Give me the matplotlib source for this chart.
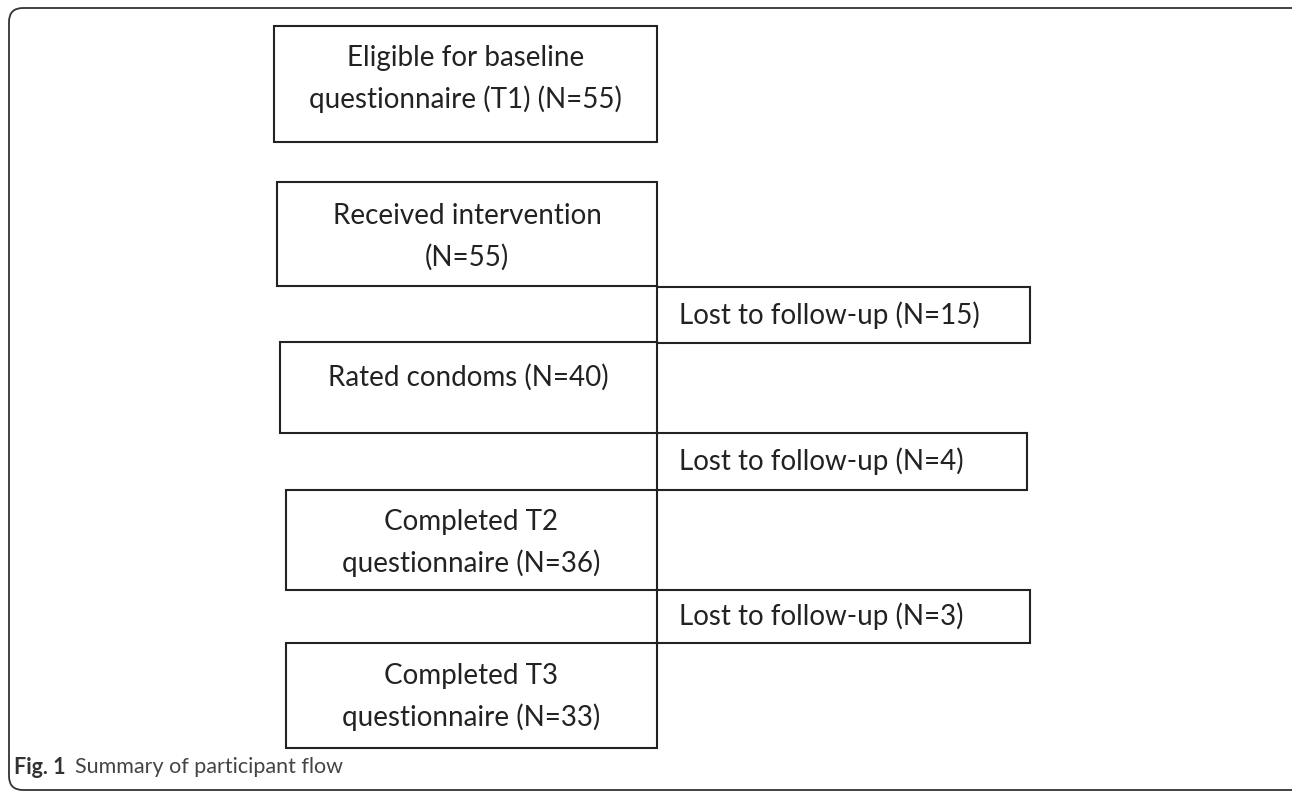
import matplotlib
matplotlib.use("Agg")
import matplotlib.pyplot as plt
from matplotlib.patches import Rectangle, FancyBboxPatch

plt.rcParams['font.family'] = ['Lato', 'DejaVu Sans']

# flow stages and counts
stage_text = ["Eligible for baseline\nquestionnaire (T1)", "Received intervention\n", "Rated condoms",
              "Completed T2\nquestionnaire", "Completed T3\nquestionnaire"]
stage_n = [55, 55, 40, 36, 33]
lost_n = [15, 4, 3]

# box geometry in pixels (left, top, right, bottom)
stage_boxes = [(274, 26, 657, 142), (277, 182, 657, 286), (280, 342, 657, 433),
               (286, 490, 657, 590), (286, 643, 657, 748)]
lost_boxes = [(657, 287, 1030, 343), (657, 433, 1027, 490), (657, 590, 1030, 643)]
text_y = [79, 237, 377, 543, 697]

fig = plt.figure(figsize=(12.92, 7.93), dpi=100)
ax = fig.add_axes([0, 0, 1, 1])
ax.set_xlim(0, 1292)
ax.set_ylim(793, 0)
ax.axis('off')

# outer rounded frame
ax.add_patch(FancyBboxPatch((9, 8), 1300, 782, boxstyle="round,pad=0,rounding_size=14",
                            fill=False, lw=1.3, ec='#333333'))

col = '#222222'
for i, (l, t, r, b) in enumerate(stage_boxes):
    ax.add_patch(Rectangle((l, t), r - l, b - t, fill=False, lw=1.5, ec=col))
    if i == 0:
        s = "Eligible for baseline\nquestionnaire (T1) (N=%d)" % stage_n[i]
    elif i == 1:
        s = "Received intervention\n(N=%d)" % stage_n[i]
    elif i == 2:
        s = "Rated condoms (N=%d)" % stage_n[i]
    else:
        s = stage_text[i] + " (N=%d)" % stage_n[i]
    ax.text((l + r) / 2, text_y[i], s, ha='center', va='center', fontsize=20,
            color=col, linespacing=1.65)

for (l, t, r, b), n in zip(lost_boxes, lost_n):
    ax.add_patch(Rectangle((l, t), r - l, b - t, fill=False, lw=1.5, ec=col))
    ax.text(l + 22, (t + b) / 2, "Lost to follow-up (N=%d)" % n, ha='left', va='center',
            fontsize=20, color=col)

ax.text(14, 767, "Fig. 1", ha='left', va='center', fontsize=15.5, fontweight='bold', color='#333333')
ax.text(75, 767, "Summary of participant flow", ha='left', va='center', fontsize=15.5, color='#444444')

fig.savefig("out.png", dpi=100)
